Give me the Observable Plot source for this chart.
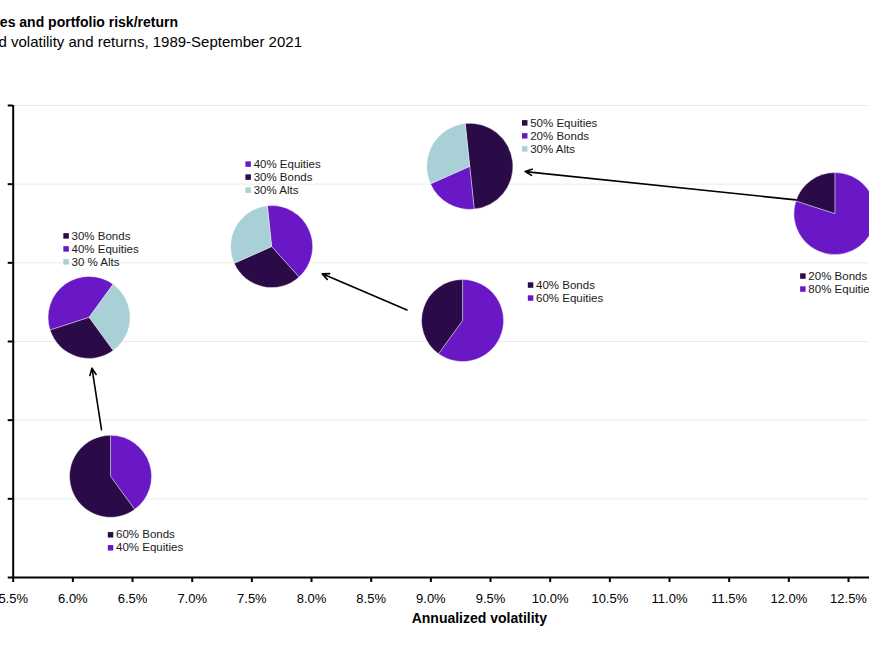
<!DOCTYPE html>
<html><head><meta charset="utf-8">
<script src="https://cdn.jsdelivr.net/npm/d3@7"></script>
<script src="https://cdn.jsdelivr.net/npm/@observablehq/plot@0.6"></script>
<style>
html,body{margin:0;padding:0;background:#fff;overflow:hidden;}
body{width:869px;height:652px;position:relative;font-family:"Liberation Sans",Arial,Helvetica,sans-serif;color:#000;}
.t{position:absolute;white-space:nowrap;font-size:14px;line-height:16px;text-align:right;}
#title{top:14px;right:691px;font-weight:bold;}
#subtitle{top:34px;right:567px;font-size:15px;}
#chart{position:absolute;top:60px;left:0;}
</style></head><body>
<div id="title" class="t"></div>
<div id="subtitle" class="t"></div>
<div id="chart"></div>
<script>
// ---------- data ----------
const titleText = "Alternatives and portfolio risk/return";
const subtitleText = "Annualized volatility and returns, 1989-September 2021";
const xLabel = "Annualized volatility";
const xTicks = [5.5, 6.0, 6.5, 7.0, 7.5, 8.0, 8.5, 9.0, 9.5, 10.0, 10.5, 11.0, 11.5, 12.0, 12.5];
const yTicks = [5.5, 6.0, 6.5, 7.0, 7.5, 8.0, 8.5];
const portfolios = ["60/40 bonds/equities", "30/40/30 bonds/equities/alts", "40/30/30 equities/bonds/alts",
                    "50/20/30 equities/bonds/alts", "40/60 bonds/equities", "20/80 bonds/equities"];
const volatility = [6.32, 6.14, 7.67, 9.33, 9.27, 12.39];
const returns    = [6.14, 7.15, 7.60, 8.11, 7.13, 7.81];
const sliceAssets = [["Equities","Bonds"], ["Equities","Alts","Bonds"], ["Equities","Bonds","Alts"],
                     ["Equities","Bonds","Alts"], ["Equities","Bonds"], ["Equities","Bonds"]];
const sliceWeights = [[40,60], [40,30,30], [40,30,30], [50,20,30], [60,40], [80,20]];
const legendLabels = [
  ["60% Bonds", "40% Equities"],
  ["30% Bonds", "40% Equities", "30 % Alts"],
  ["40% Equities", "30% Bonds", "30% Alts"],
  ["50% Equities", "20% Bonds", "30% Alts"],
  ["40% Bonds", "60% Equities"],
  ["20% Bonds", "80% Equities"]
];
const arrowFrom = [[6.24, 6.44], [8.80, 7.20], [12.06, 7.90]];
const arrowTo   = [[6.16, 6.83], [8.09, 7.43], [9.79, 8.08]];

// ---------- styles ----------
const DARK = "#2b0a48", PURPLE = "#6a17c6", LIGHT = "#a8d0d6";
const sliceColors = [[PURPLE,DARK],[PURPLE,LIGHT,DARK],[PURPLE,DARK,LIGHT],[DARK,PURPLE,LIGHT],[PURPLE,DARK],[PURPLE,DARK]];
const legendColors = [[DARK,PURPLE],[DARK,PURPLE,LIGHT],[PURPLE,DARK,LIGHT],[DARK,PURPLE,LIGHT],[DARK,PURPLE],[DARK,PURPLE]];
const pieRotation = [0, -108, -6, -6, 0, 0];
const pieRadius = [41, 41, 41, 43, 41, 41];
const legendOffset = [[-0.5, 58], [-23.5, -82], [-24, -83], [54.5, -44], [67.5, -36], [-32.5, 62]];

document.getElementById("title").textContent = titleText;
document.getElementById("subtitle").textContent = subtitleText;

function pieMark(index, scales) {
  const g = d3.create("svg:g").attr("aria-label", "pies");
  volatility.forEach((v, i) => {
    const cx = scales.x(v), cy = scales.y(returns[i]);
    const a0 = pieRotation[i] * Math.PI / 180;
    const arcs = d3.pie().sort(null).value(d => d).startAngle(a0).endAngle(a0 + 2 * Math.PI)(sliceWeights[i]);
    const arc = d3.arc().innerRadius(0).outerRadius(pieRadius[i]);
    g.append("g").attr("transform", `translate(${cx},${cy})`)
      .selectAll("path").data(arcs).join("path")
      .attr("d", arc).attr("fill", (d, j) => sliceColors[i][j])
      .attr("stroke", "#fff").attr("stroke-width", 0.4)
      .append("title").text((d, j) => `${portfolios[i]}: ${sliceWeights[i][j]}% ${sliceAssets[i][j]}`);
  });
  return g.node();
}

const legendMarks = [];
legendLabels.forEach((labels, i) => labels.forEach((lab, j) => {
  const dx = legendOffset[i][0], dy = legendOffset[i][1] + j * 13;
  const datum = [{x: volatility[i], y: returns[i], label: lab}];
  legendMarks.push(Plot.dot(datum, {x: "x", y: "y", dx, dy, symbol: "square", r: 3.1, fill: legendColors[i][j], stroke: null}));
  legendMarks.push(Plot.text(datum, {x: "x", y: "y", dx: dx + 5.5, dy, text: "label", textAnchor: "start", fontSize: 11.5, fill: "#1a1a1a"}));
}));

const arrows = arrowFrom.map((f, i) => ({x1: f[0], y1: f[1], x2: arrowTo[i][0], y2: arrowTo[i][1]}));

const chart = Plot.plot({
  width: 869, height: 592,
  marginLeft: 12.7, marginRight: 0, marginTop: 45, marginBottom: 75,
  style: {fontFamily: "'Liberation Sans', Arial, Helvetica, sans-serif", fontSize: "13px", color: "#000", background: "#fff"},
  x: {domain: [5.5, 12.676]},
  y: {domain: [5.5, 8.5]},
  marks: [
    Plot.ruleY(yTicks.slice(1), {stroke: "#ebebeb", strokeWidth: 1}),
    pieMark,
    Plot.arrow(arrows, {x1: "x1", y1: "y1", x2: "x2", y2: "y2", stroke: "#000", strokeWidth: 1.6, headLength: 7, headAngle: 50}),
    ...legendMarks,
    Plot.axisX(xTicks, {tickSize: 5, tickPadding: 11, tickFormat: d => d.toFixed(1) + "%", fontSize: 13, strokeWidth: 2, label: null}),
    Plot.axisY(yTicks, {tickSize: 5, tickFormat: () => "", strokeWidth: 2, label: null}),
    Plot.text([xLabel], {frameAnchor: "bottom", lineAnchor: "middle", dx: 38, dy: 41, fontWeight: "bold", fontSize: 14, fill: "#000"}),
    Plot.ruleY([5.5], {stroke: "#000", strokeWidth: 2}),
    Plot.ruleX([5.5], {stroke: "#000", strokeWidth: 2})
  ]
});
document.getElementById("chart").appendChild(chart);
</script>
</body></html>
